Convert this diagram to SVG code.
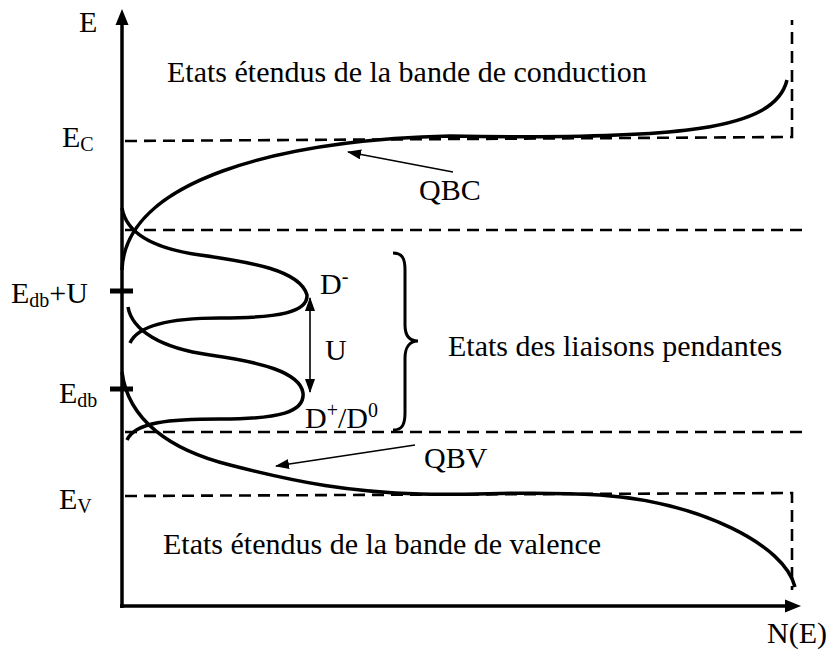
<svg xmlns="http://www.w3.org/2000/svg" width="827" height="652" viewBox="0 0 827 652">
<style>
.t{font-family:'Liberation Serif','Times New Roman',serif;font-size:30px;fill:#000}
.sub{font-size:20px}
.ax{stroke:#000;stroke-width:3.5;fill:none}
.dash{stroke:#000;stroke-width:2.6;fill:none;stroke-dasharray:12 7}
.curve{stroke:#000;stroke-width:3.5;fill:none}
.thin{stroke:#000;stroke-width:1.6;fill:none}
</style>
<defs>
<marker id="ah" viewBox="0 0 14 10" refX="13" refY="5" markerWidth="14" markerHeight="10" markerUnits="userSpaceOnUse" orient="auto-start-reverse"><path d="M0,0 L14,5 L0,10 Z" fill="#000"/></marker>
</defs>
<g id="axes">
<line class="ax" x1="122" y1="608" x2="122" y2="22"/>
<path d="M122,9 L128.5,25 L115.5,25 Z" fill="#000"/>
<line class="ax" x1="120" y1="606" x2="787" y2="606"/>
<path d="M801,606 L785,599.5 L785,612.5 Z" fill="#000"/>
<line x1="110" y1="291" x2="133" y2="291" stroke="#000" stroke-width="5"/>
<line x1="110" y1="389" x2="133" y2="389" stroke="#000" stroke-width="5"/>
<text class="t" x="79" y="32">E</text>
<text class="t" x="767" y="643">N(E)</text>
</g>
<g id="levels">
<path class="dash" d="M125,141 L792,137 L792,20"/>
<line class="dash" x1="125" y1="230" x2="807" y2="230"/>
<line class="dash" x1="125" y1="432" x2="807" y2="432"/>
<path class="dash" d="M125,496 L792,493 L792,590"/>
<text class="t" x="62" y="147">E<tspan class="sub" dy="4">C</tspan></text>
<text class="t" x="11" y="303">E<tspan class="sub" dy="4">db</tspan><tspan dy="-4">+U</tspan></text>
<text class="t" x="59" y="403">E<tspan class="sub" dy="4">db</tspan></text>
<text class="t" x="59" y="509">E<tspan class="sub" dy="4">V</tspan></text>
</g>
<g id="qbc">
<path class="curve" d="M122,270 C125,180 280,140 450,136 C680,140 775,130 787,80"/>
<text class="t" x="419" y="200">QBC</text>
</g>
<g id="qbv">
<path class="curve" d="M122,372 C128,420 170,450 230,465 C300,483 350,492 420,494 C480,496 520,490 600,495 C700,502 785,545 795,587"/>
<text class="t" x="424" y="468">QBV</text>
</g>
<g id="dminus">
<path class="curve" d="M122,208 C126,232 150,248 200,255 C250,262 300,270 307,295 C308,312 280,318 220,318 C170,318 138,325 130,343"/>
<text class="t" x="320" y="294">D<tspan class="sub" dy="-11">-</tspan></text>
</g>
<g id="dplus">
<path class="curve" d="M128,307 C132,330 160,348 210,355 C260,362 300,372 303,393 C305,412 280,419 220,419 C170,419 135,422 127,440"/>
<text class="t" x="305" y="428">D<tspan class="sub" dy="-11">+</tspan><tspan dy="11">/D</tspan><tspan class="sub" dy="-11">0</tspan></text>
</g>
<g id="u">
<text class="t" x="325" y="360">U</text>
</g>
<g id="liaisons">
<path d="M393,253 C402,253 405,258 405,270 L405,325 C405,336 410,341 418,341 C410,341 405,347 405,358 L405,413 C405,425 402,430 393,430" stroke="#000" stroke-width="3" fill="none"/>
<text class="t" x="448" y="356">Etats des liaisons pendantes</text>
</g>
<g id="bands">
<text class="t" x="167" y="82">Etats étendus de la bande de conduction</text>
<text class="t" x="163" y="554">Etats étendus de la bande de valence</text>
</g>
<g id="connectors">
<line class="thin" x1="453" y1="172" x2="348" y2="152" marker-end="url(#ah)"/>
<line class="thin" x1="415" y1="445" x2="276" y2="466" marker-end="url(#ah)"/>
<line class="thin" x1="310" y1="298" x2="310" y2="392" marker-start="url(#ah)" marker-end="url(#ah)"/>
</g>
</svg>
